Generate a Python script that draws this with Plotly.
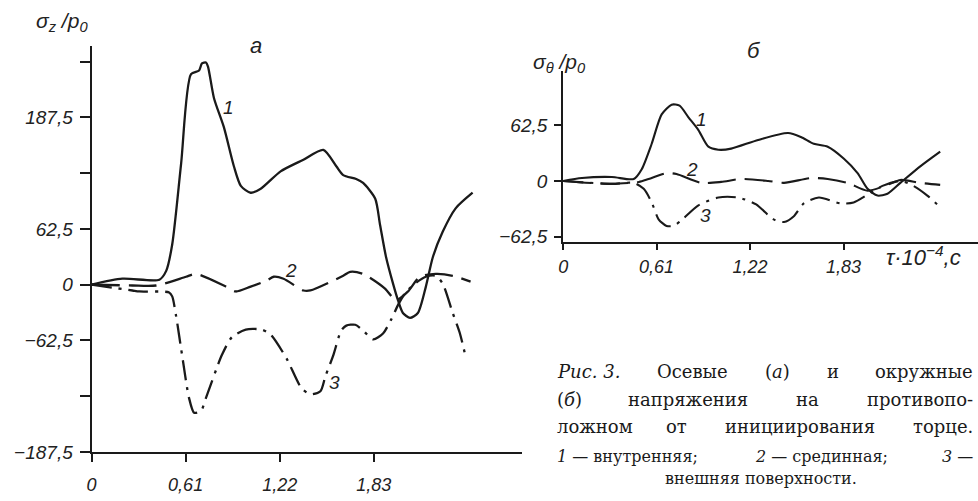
import re
import plotly.graph_objects as go

W, H = 978, 501

# ---------------- data: panel a (sigma_z / p0) ----------------
a1_x = [0, 0.20, 0.44, 0.484, 0.523, 0.581, 0.645, 0.697, 0.716, 0.742, 0.755, 0.794, 0.858, 0.923, 0.968,
        1.032, 1.097, 1.226, 1.374, 1.503, 1.587, 1.632, 1.716, 1.761, 1.839, 1.871, 1.910, 1.955, 1.987,
        2.019, 2.065, 2.116, 2.168, 2.213, 2.277, 2.361, 2.471]
a1_y = [0, 6.6, 5.5, 15.4, 45, 136, 236, 240, 248, 249, 244.5, 209, 176.5, 132.7, 110.7,
        103, 107.5, 127, 140, 151, 132.7, 122.8, 118.4, 114, 96.5, 66.9, 30.7, 1.1, -17.5,
        -31.8, -37.3, -31.8, -2.2, 30.7, 59.2, 85.5, 103]

a2_x = [0, 0.265, 0.419, 0.613, 0.677, 0.871, 0.935, 1.032, 1.135, 1.181, 1.245, 1.374, 1.419,
        1.632, 1.677, 1.761, 1.903, 1.974, 2.052, 2.129, 2.232, 2.342, 2.458]
a2_y = [0, -1, -1, 8.8, 12, -2.2, -7.7, -2.2, 4.4, 8.8, 6.6, -6.6, -6.6,
        9.9, 14.3, 12, -4.4, -17.5, -7.7, 8.8, 12, 9.9, 3.3]

a3_x = [0, 0.265, 0.31, 0.503, 0.523, 0.548, 0.587, 0.632, 0.665, 0.71, 0.742, 0.845, 0.91, 1.0,
        1.103, 1.161, 1.265, 1.361, 1.419, 1.484, 1.516, 1.568, 1.619, 1.652, 1.71, 1.761, 1.826,
        1.89, 1.942, 1.987, 2.032, 2.097, 2.168, 2.232, 2.277, 2.342, 2.387, 2.426]
a3_y = [0, -6.6, -7.7, -8.8, -13.2, -35, -79, -127, -143.6, -141.4, -127, -79, -59, -50.4,
        -50.4, -56, -83, -116, -123, -119.5, -103, -79, -51.5, -46, -45, -51.5, -61.4,
        -54.8, -39.5, -23, -9.9, 1.1, 8.8, 9.9, 1.1, -31.8, -53.7, -81]

# ---------------- data: panel b (sigma_theta / p0) ----------------
b1_x = [0, 0.123, 0.318, 0.461, 0.513, 0.578, 0.643, 0.708, 0.76, 0.818, 0.883, 0.948, 1.013, 1.097,
        1.273, 1.468, 1.552, 1.636, 1.727, 1.831, 1.922, 1.987, 2.052, 2.117, 2.201, 2.331, 2.461]
b1_y = [0, 3.3, 4.4, 2.2, 13.2, 41.7, 74.6, 85.5, 84.4, 71.3, 57, 38.4, 35, 36.2,
        46, 53.7, 49.3, 41.7, 38.4, 25.2, 8.8, -8.8, -16.4, -14.3, -2.2, 16.4, 32.9]

b2_x = [0, 0.318, 0.494, 0.558, 0.675, 0.74, 0.903, 1.032, 1.162, 1.338, 1.442, 1.617, 1.727,
        1.857, 1.987, 2.117, 2.201, 2.331, 2.461]
b2_y = [0, -3.3, -1.1, 2.2, 8.8, 7.7, -2.2, -1.1, 2.2, 0, -2.2, 3.3, 2.2,
        -2.2, -11, -4.4, 1.1, -2.2, -4.4]

b3_x = [0, 0.318, 0.461, 0.526, 0.578, 0.623, 0.675, 0.721, 0.773, 0.883, 1.013, 1.143, 1.26,
        1.37, 1.442, 1.506, 1.571, 1.669, 1.812, 1.896, 1.987, 2.084, 2.201, 2.286, 2.377, 2.461]
b3_y = [0, -3.3, -2.2, -8.8, -24, -43, -50.4, -50.4, -43.9, -27.4, -18.6, -18.6, -26.3,
        -42.8, -46, -39.5, -25.2, -18.6, -25.2, -24.1, -15.4, -5.5, 0, -5.5, -16.4, -29.6]

# ---------------- ticks ----------------
a_ytick_vals = [-187.5, -62.5, 0, 62.5, 187.5]
a_ytick_text = ["−187,5", "−62,5", "0", "62,5", "187,5"]
a_yminor_vals = [-125, 125, 250]
b_ytick_vals = [-62.5, 0, 62.5]
b_ytick_text = ["−62,5", "0", "62,5"]
xtick_vals = [0, 0.61, 1.22, 1.83]
xtick_text = ["0", "0,61", "1,22", "1,83"]

caption_lines = [
    ["<i>Рис. 3.</i>", "Осевые", "(<i>а</i>)", "и", "окружные"],
    ["(<i>б</i>)", "напряжения", "на", "противопо-"],
    ["ложном", "от", "инициирования", "торце."],
    ["<i>1</i> — внутренняя;", "<i>2</i> — срединная;", "<i>3</i> —"],
]
caption_last = "внешняя поверхности."

# ---------------- figure ----------------
def px(X):
    return X / W

def py(Y):
    return 1 - Y / H

HAND = dict(family="Liberation Sans", size=19, color="#222", style="italic")
SERIF = "DejaVu Serif"
INK = "#1a1a1a"

fig = go.Figure()

line_styles = [dict(dash="solid"), dict(dash="28px,9px"), dict(dash="20px,7px,3px,7px")]

for xs, ys, st in [(a1_x, a1_y, line_styles[0]), (a2_x, a2_y, line_styles[1]), (a3_x, a3_y, line_styles[2])]:
    fig.add_trace(go.Scatter(x=xs, y=ys, mode="lines", xaxis="x", yaxis="y",
                             line=dict(color=INK, width=2.3, shape="spline", smoothing=0.7, **st),
                             showlegend=False, hoverinfo="skip"))
for xs, ys, st in [(b1_x, b1_y, line_styles[0]), (b2_x, b2_y, line_styles[1]), (b3_x, b3_y, line_styles[2])]:
    fig.add_trace(go.Scatter(x=xs, y=ys, mode="lines", xaxis="x2", yaxis="y2",
                             line=dict(color=INK, width=2.1, shape="spline", smoothing=0.7, **st),
                             showlegend=False, hoverinfo="skip"))

# axis geometry (pixel positions of the hand-drawn axes)
ax_a = dict(x0=87, x1=520, y0=462, y1=47)
ax_b = dict(x0=561, x1=978, y0=247, y1=73)
a_xscale, a_yscale = 155.0, 0.912
b_xscale, b_yscale = 154.0, 0.912
a_zero, b_zero = 291, 185

common_axis = dict(showgrid=False, zeroline=False, showline=True, linecolor=INK, linewidth=2,
                   ticks="outside", tickcolor=INK, tickwidth=2, tickfont=HAND, fixedrange=True)

fig.update_layout(
    width=W, height=H, margin=dict(l=0, r=0, t=0, b=0),
    paper_bgcolor="white", plot_bgcolor="white", showlegend=False,
    xaxis=dict(domain=[px(ax_a["x0"]), px(ax_a["x1"])],
               range=[0, (ax_a["x1"] - ax_a["x0"]) / a_xscale],
               tickvals=xtick_vals, ticktext=xtick_text, ticklen=8, ticklabelstandoff=8,
               anchor="y", **common_axis),
    yaxis=dict(domain=[py(ax_a["y0"]), py(ax_a["y1"])],
               range=[(a_zero - ax_a["y0"]) / a_yscale, (a_zero - ax_a["y1"]) / a_yscale],
               tickvals=a_ytick_vals, ticktext=a_ytick_text, ticklen=10, ticklabelstandoff=3,
               minor=dict(tickvals=a_yminor_vals, ticks="outside", ticklen=10, tickwidth=2,
                          tickcolor=INK, showgrid=False),
               anchor="x", **common_axis),
    xaxis2=dict(domain=[px(ax_b["x0"]), px(ax_b["x1"])],
                range=[0, (ax_b["x1"] - ax_b["x0"]) / b_xscale],
                tickvals=xtick_vals, ticktext=xtick_text, ticklen=6, ticklabelstandoff=2,
                anchor="y2", **common_axis),
    yaxis2=dict(domain=[py(ax_b["y0"]), py(ax_b["y1"])],
                range=[(b_zero - ax_b["y0"]) / b_yscale, (b_zero - ax_b["y1"]) / b_yscale],
                tickvals=b_ytick_vals, ticktext=b_ytick_text, ticklen=7, ticklabelstandoff=3,
                anchor="x2", **common_axis),
)
fig.update_xaxes(tickfont_size=18)

ann = []

def label(text, X, Y, size=19, font=None, xanchor="center"):
    f = dict(HAND) if font is None else dict(font)
    f["size"] = size
    ann.append(dict(text=text, x=px(X), y=py(Y), xref="paper", yref="paper", showarrow=False,
                    xanchor=xanchor, yanchor="middle", font=f))

# axis titles and panel letters
label("σ<sub>z</sub> /p<sub>0</sub>", 57, 22, size=21)
label("σ<sub>θ</sub> /p<sub>0</sub>", 557, 64, size=21)
label("τ·10<sup>−4</sup>,с", 923, 262, size=22)
label("а", 252, 47, size=22)
label("б", 753, 52, size=22)
# curve numbers
label("1", 225, 110)
label("2", 287, 277)
label("3", 331, 391)
label("1", 700, 122)
label("2", 691, 173)
label("3", 704, 220)

# caption (justified word by word)
CW = {" ": 0.32, ".": 0.32, ",": 0.32, ";": 0.34, "(": 0.39, ")": 0.39, "—": 1.0, "-": 0.34,
      "ж": 0.92, "ы": 0.84, "ш": 0.93, "щ": 0.95, "м": 0.73, "ю": 0.87, "е": 0.59, "а": 0.6,
      "с": 0.55, "т": 0.6, "з": 0.55, "г": 0.52, "р": 0.64, "о": 0.6, "л": 0.67, "и": 0.69,
      "н": 0.69, "п": 0.69, "к": 0.64, "в": 0.62, "у": 0.57, "ц": 0.71, "я": 0.65, "х": 0.6}

def est_width(word, size):
    w = re.sub(r"<[^>]+>", "", word)
    tot = 0.0
    for ch in w:
        if ch in CW:
            tot += CW[ch]
        elif ch.isdigit():
            tot += 0.64
        elif ch.isupper():
            tot += 0.75
        else:
            tot += 0.62
    return tot * size

def justify(words, x0, x1, Y, size):
    widths = [est_width(w, size) for w in words]
    gap = (x1 - x0 - sum(widths)) / (len(words) - 1)
    x = x0
    n = len(words)
    for i, (w, wd) in enumerate(zip(words, widths)):
        if i == 0:
            xa, xpos = "left", x0
        elif i == n - 1:
            xa, xpos = "right", x1
        else:
            xa, xpos = "center", x + wd / 2
        ann.append(dict(text=w, x=px(xpos), y=py(Y), xref="paper", yref="paper",
                        showarrow=False, xanchor=xa, yanchor="middle",
                        font=dict(family=SERIF, size=size, color=INK)))
        x += wd + gap

cap_x0, cap_x1 = 553, 975
cap_y = [380, 408, 436, 467]
cap_sizes = [18, 18, 18, 16]
for words, Y, s in zip(caption_lines, cap_y, cap_sizes):
    justify(words, cap_x0, cap_x1, Y, s)
ann.append(dict(text=caption_last, x=px(760), y=py(489), xref="paper", yref="paper",
                showarrow=False, xanchor="center", yanchor="middle",
                font=dict(family=SERIF, size=16, color=INK)))

fig.update_layout(annotations=ann)
fig.write_html("out.html", config={"displayModeBar": False},
               post_script="document.body.style.margin='0';document.body.style.overflow='hidden';")
